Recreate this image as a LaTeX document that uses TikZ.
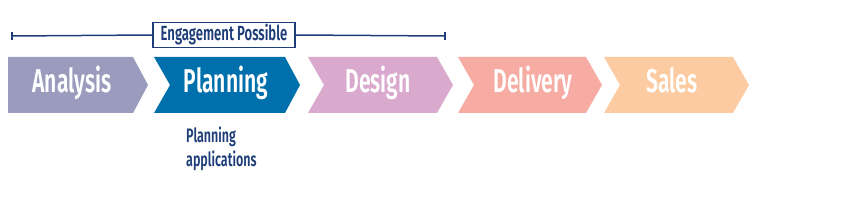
\documentclass[tikz,border=0pt]{standalone}
\usepackage{fontspec}
\setmainfont{Fira Sans}
\newfontfamily\condfont{Fira Sans SemiBold}[FakeStretch=0.64]
\definecolor{cAnalysis}{HTML}{9A9BBD}
\definecolor{cPlanning}{HTML}{0070AD}
\definecolor{cDesign}{HTML}{D9A9CE}
\definecolor{cDelivery}{HTML}{F6ACA3}
\definecolor{cSales}{HTML}{FDCBA1}
\definecolor{navy}{HTML}{1F3D78}
\begin{document}
\begin{tikzpicture}[x=1pt,y=-1pt,
  steplabel/.style={text=white,font=\condfont\fontsize{33}{35}\selectfont,anchor=base,inner sep=0pt},
  navytext/.style={text=navy,font=\condfont\fontsize{20.5}{22}\selectfont},
  bracket/.style={draw=navy,line width=1.5pt}]
\useasboundingbox (0,0) rectangle (864,213);
% chevrons
\fill[cAnalysis] (8,57) -- (133,57) -- (148,85) -- (133,113) -- (8,113) -- cycle;
\fill[cPlanning] (154,57) -- (285,57) -- (300,85) -- (285,113) -- (154,113) -- (170,85) -- cycle;
\fill[cDesign] (308,57) -- (437,57) -- (453,85) -- (437,113) -- (308,113) -- (324,85) -- cycle;
\fill[cDelivery] (458,57) -- (586,57) -- (602,85) -- (586,113) -- (458,113) -- (474,85) -- cycle;
\fill[cSales] (604,57) -- (733,57) -- (749,85) -- (733,113) -- (604,113) -- (620,85) -- cycle;
\node[steplabel] (analysis) at (72,93) {Analysis};
\node[steplabel] (planning) at (226,93) {Planning};
\node[steplabel] (design) at (378,93) {Design};
\node[steplabel] (delivery) at (533,93) {Delivery};
\node[steplabel] (sales) at (672,93) {Sales};
% bracket
\coordinate (bl) at (12,36);
\coordinate (br) at (445,36);
\node[navytext,draw=navy,line width=1.2pt,minimum width=142pt,minimum height=25pt,inner sep=0pt] (engage) at (224,35) {Engagement Possible};
\draw[bracket] (bl) -- (engage.west);
\draw[bracket] (engage.east) -- (br);
\draw[bracket] ([yshift=-4pt]bl) -- ([yshift=4pt]bl);
\draw[bracket] ([yshift=-4pt]br) -- ([yshift=4pt]br);
% sub-label
\node[navytext,font=\condfont\fontsize{19.5}{24}\selectfont,align=left,anchor=north west,inner sep=0pt] (apps) at (186,127) {Planning\\applications};
\end{tikzpicture}
\end{document}
